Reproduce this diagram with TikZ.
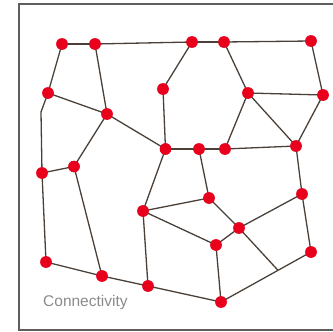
\documentclass[tikz,border=0pt]{standalone}
\usepackage{fontspec}
\setmainfont{Liberation Sans}
\definecolor{nodered}{HTML}{E8001C}
\definecolor{edgecol}{HTML}{4A4038}
\definecolor{framecol}{HTML}{5E5E5E}
\definecolor{textgray}{HTML}{8A8A8A}
\begin{document}
\begin{tikzpicture}[x=1pt,y=-1pt,
  dot/.style={circle,fill=nodered,inner sep=0pt,minimum size=11.5pt},
  link/.style={draw=edgecol,line width=1.3pt},
  framebox/.style={draw=framecol,line width=2pt}]
\useasboundingbox (0,0) rectangle (333,332);
\draw[framebox] (340,3.5) -- (18.5,3.5) -- (18.5,330) -- (340,330);
% junction coordinates
\coordinate (bend) at (41,112);
\coordinate (jn) at (278,270.3);
% nodes
\node[dot] (A) at (62,44) {};
\node[dot] (B) at (95,44) {};
\node[dot] (C) at (48,93) {};
\node[dot] (D) at (107,114) {};
\node[dot] (E) at (163,89) {};
\node[dot] (F) at (165.5,149) {};
\node[dot] (G) at (74,166.5) {};
\node[dot] (H) at (42,173) {};
\node[dot] (I) at (192,42) {};
\node[dot] (J) at (224,42) {};
\node[dot] (K) at (311,41) {};
\node[dot] (L) at (248,93) {};
\node[dot] (M) at (323,95) {};
\node[dot] (N) at (296,146) {};
\node[dot] (P) at (199,149) {};
\node[dot] (Q) at (225,149) {};
\node[dot] (R) at (143,211) {};
\node[dot] (S) at (46,262) {};
\node[dot] (T) at (102,276) {};
\node[dot] (U) at (148,286) {};
\node[dot] (V) at (209,198) {};
\node[dot] (W) at (239,228) {};
\node[dot] (X) at (216,245) {};
\node[dot] (Y) at (302,194) {};
\node[dot] (Z) at (311,252) {};
\node[dot] (AA) at (221,302) {};
% edges
\draw[link] (A.center) -- (B.center);
\draw[link] (B.center) -- (I.center);
\draw[link] (I.center) -- (J.center);
\draw[link] (J.center) -- (K.center);
\draw[link] (A.center) -- (C.center);
\draw[link] (C.center) -- (bend) -- (H.center);
\draw[link] (C.center) -- (D.center);
\draw[link] (B.center) -- (D.center);
\draw[link] (D.center) -- (F.center);
\draw[link] (D.center) -- (G.center);
\draw[link] (G.center) -- (H.center);
\draw[link] (H.center) -- (S.center);
\draw[link] (G.center) -- (T.center);
\draw[link] (S.center) -- (T.center);
\draw[link] (T.center) -- (U.center);
\draw[link] (U.center) -- (AA.center);
\draw[link] (E.center) -- (F.center);
\draw[link] (E.center) -- (I.center);
\draw[link] (J.center) -- (L.center);
\draw[link] (K.center) -- (M.center);
\draw[link] (L.center) -- (M.center);
\draw[link] (L.center) -- (Q.center);
\draw[link] (L.center) -- (N.center);
\draw[link] (M.center) -- (N.center);
\draw[link] (F.center) -- (P.center);
\draw[link] (P.center) -- (Q.center);
\draw[link] (Q.center) -- (N.center);
\draw[link] (F.center) -- (R.center);
\draw[link] (P.center) -- (V.center);
\draw[link] (R.center) -- (V.center);
\draw[link] (R.center) -- (X.center);
\draw[link] (R.center) -- (U.center);
\draw[link] (V.center) -- (W.center);
\draw[link] (W.center) -- (X.center);
\draw[link] (W.center) -- (Y.center);
\draw[link] (X.center) -- (AA.center);
\draw[link] (W.center) -- (jn);
\draw[link] (AA.center) -- (Z.center);
\draw[link] (Y.center) -- (Z.center);
\draw[link] (N.center) -- (Y.center);
% redraw nodes on top of the connectors
\foreach \n in {A,B,C,D,E,F,G,H,I,J,K,L,M,N,P,Q,R,S,T,U,V,W,X,Y,Z,AA}
  \fill[nodered] (\n.center) circle (5.75pt);
\node[anchor=base west,inner sep=0pt,text=textgray,font=\fontsize{15.5pt}{18pt}\selectfont] (cap) at (43,306) {Connectivity};
\end{tikzpicture}
\end{document}
